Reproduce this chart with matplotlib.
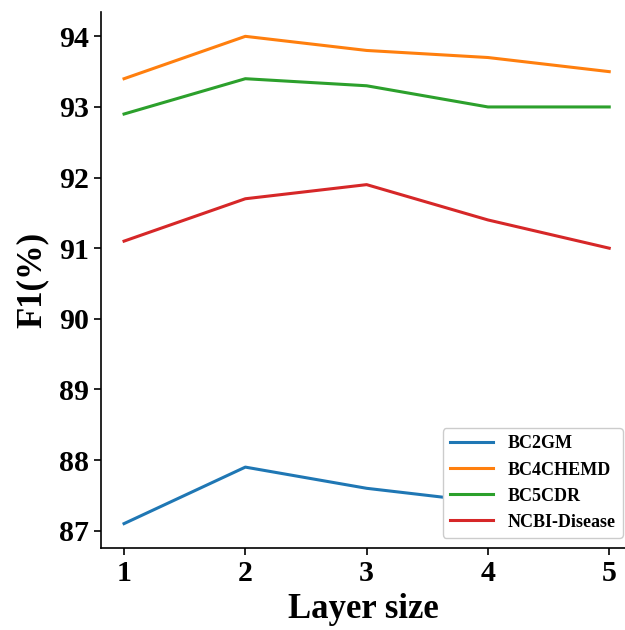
import matplotlib
matplotlib.use('Agg')
import matplotlib.pyplot as plt

# layer sizes and F1 scores per dataset
layers = [1, 2, 3, 4, 5]
bc2gm = [87.1, 87.9, 87.6, 87.4, 87.3]
bc4chemd = [93.4, 94.0, 93.8, 93.7, 93.5]
bc5cdr = [92.9, 93.4, 93.3, 93.0, 93.0]
ncbi = [91.1, 91.7, 91.9, 91.4, 91.0]

plt.rcParams['font.family'] = ['Liberation Serif', 'DejaVu Serif']
plt.rcParams['font.weight'] = 'bold'

fig = plt.figure(figsize=(6.25, 6.3), dpi=100)
ax = fig.add_axes([0.1616, 0.1302, 0.8384, 0.8508])

ax.plot(layers, bc2gm, color='#1f77b4', lw=2.2, label='BC2GM')
ax.plot(layers, bc4chemd, color='#ff7f0e', lw=2.2, label='BC4CHEMD')
ax.plot(layers, bc5cdr, color='#2ca02c', lw=2.2, label='BC5CDR')
ax.plot(layers, ncbi, color='#d62728', lw=2.2, label='NCBI-Disease')

ax.set_xlim(0.81, 5.13)
ax.set_ylim(86.755, 94.345)
ax.set_xticks(layers)
ax.set_yticks(range(87, 95))
ax.tick_params(labelsize=21.5, width=1.2, length=5, pad=4)
for lab in ax.get_xticklabels() + ax.get_yticklabels():
    lab.set_fontweight('bold')
ax.spines['top'].set_visible(False)
ax.spines['right'].set_visible(False)
ax.spines['left'].set_linewidth(1.2)
ax.spines['bottom'].set_linewidth(1.2)

ax.set_xlabel('Layer size', fontsize=25, fontweight='bold', labelpad=4)
ax.set_ylabel('F1(%)', fontsize=25, fontweight='bold', labelpad=7)

leg = ax.legend(loc='lower right', bbox_to_anchor=(0.996, 0.019),
                borderaxespad=0, prop={'size': 13, 'weight': 'bold'},
                handlelength=2.4, framealpha=1)

fig.savefig('out.png', dpi=100)
